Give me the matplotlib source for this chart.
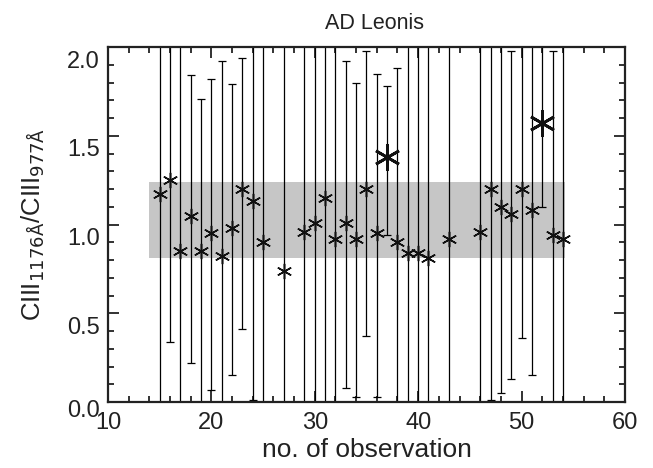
import numpy as np
import matplotlib
matplotlib.use('Agg')
import matplotlib.pyplot as plt
from matplotlib.ticker import MultipleLocator
from matplotlib.transforms import ScaledTranslation

plt.rcParams['font.family'] = ['Liberation Sans', 'DejaVu Sans']

# observation number, line ratio, lower / upper end of error bar
# (ends outside the frame are given as -0.2 / 2.2)
obs = [15, 16, 17, 18, 19, 20, 21, 22, 23, 24, 25, 27, 29, 30, 31, 32, 33, 34,
       35, 36, 37, 38, 39, 40, 41, 43, 46, 47, 48, 49, 50, 51, 52, 53, 54]
ratio = [1.17, 1.25, 0.85, 1.05, 0.85, 0.95, 0.82, 0.98, 1.20, 1.13, 0.90, 0.74,
         0.96, 1.01, 1.15, 0.92, 1.01, 0.92, 1.20, 0.95, 1.38, 0.90, 0.84, 0.84,
         0.81, 0.92, 0.96, 1.20, 1.10, 1.06, 1.20, 1.08, 1.57, 0.94, 0.92]
lower = [-0.2, 0.34, -0.2, 0.22, -0.2, 0.07, -0.2, 0.15, 0.41, 0.01, -0.2, -0.2,
         -0.2, -0.2, -0.2, -0.2, 0.08, 0.03, 0.37, 0.03, 0.94, -0.2, -0.2, -0.2,
         -0.2, -0.2, -0.2, 0.01, 0.05, 0.13, 0.36, 0.15, 1.10, -0.2, -0.2]
upper = [2.2, 2.2, 2.2, 1.84, 1.71, 1.82, 1.92, 1.79, 1.94, 2.2, 2.2, 2.2,
         2.2, 2.2, 2.2, 2.2, 1.92, 1.80, 1.98, 1.85, 1.78, 1.88, 2.2, 2.2,
         2.2, 2.2, 2.2, 2.2, 2.2, 1.98, 2.2, 2.2, 2.2, 1.98, 2.2]
big = [37, 52]  # plotted with larger symbols

band_x = [14, 54.2]
band_y = [0.81, 1.24]

obs = np.array(obs)
ratio = np.array(ratio)
lower = np.array(lower)
upper = np.array(upper)

fig = plt.figure(figsize=(6.53, 4.68), dpi=100)
ax = fig.add_axes([0.1654, 0.141, 0.7916, 0.7585])

ax.fill_between(band_x, band_y[0], band_y[1], color='#c6c6c6', lw=0, zorder=1)

ax.errorbar(obs, ratio, yerr=[ratio - lower, upper - ratio], fmt='none',
            ecolor='black', elinewidth=0.9, capsize=3, capthick=0.9, zorder=2)

is_big = np.isin(obs, big)
ax.plot(obs[~is_big], ratio[~is_big], ls='none', marker=(6, 2, 0), ms=11,
        mec='#111111', mew=1.1, zorder=3)
ax.plot(obs[is_big], ratio[is_big], ls='none', marker=(6, 2, 0), ms=19,
        mec='#111111', mew=2.0, zorder=3)

ax.set_xlim(10, 60)
ax.set_ylim(0, 2.0)
ax.xaxis.set_major_locator(MultipleLocator(10))
ax.xaxis.set_minor_locator(MultipleLocator(2))
ax.yaxis.set_major_locator(MultipleLocator(0.5))
ax.yaxis.set_minor_locator(MultipleLocator(0.1))
ax.yaxis.set_major_formatter(plt.FuncFormatter(lambda v, p: f'{v:.1f}'))
ax.tick_params(which='both', direction='in', top=True, right=True,
               labelsize=17, width=1.3, colors='#222222')
ax.tick_params(axis='x', pad=7)
ax.tick_params(axis='y', pad=6)
ax.tick_params(which='major', length=8)
ax.tick_params(which='minor', length=4)
for s in ax.spines.values():
    s.set_linewidth(1.6)
    s.set_color('#222222')

# labels on the y axis sit a little below their ticks (the lowest one less so)
fig.canvas.draw()
for lab in ax.get_yticklabels():
    dy = 6 if lab.get_text() == '0.0' else 12
    lab.set_transform(lab.get_transform() + ScaledTranslation(0, -dy / 100, fig.dpi_scale_trans))

ax.set_title('AD Leonis', fontsize=15.5, pad=13, x=0.516, color='#222222')
ax.set_xlabel('no. of observation', fontsize=19, labelpad=3, color='#222222')
ax.set_ylabel('CIII$_{1176\\mathrm{\\AA}}$/CIII$_{977\\mathrm{\\AA}}$',
              fontsize=18.5, labelpad=14, color='#222222')

fig.savefig('out.png', dpi=100)
